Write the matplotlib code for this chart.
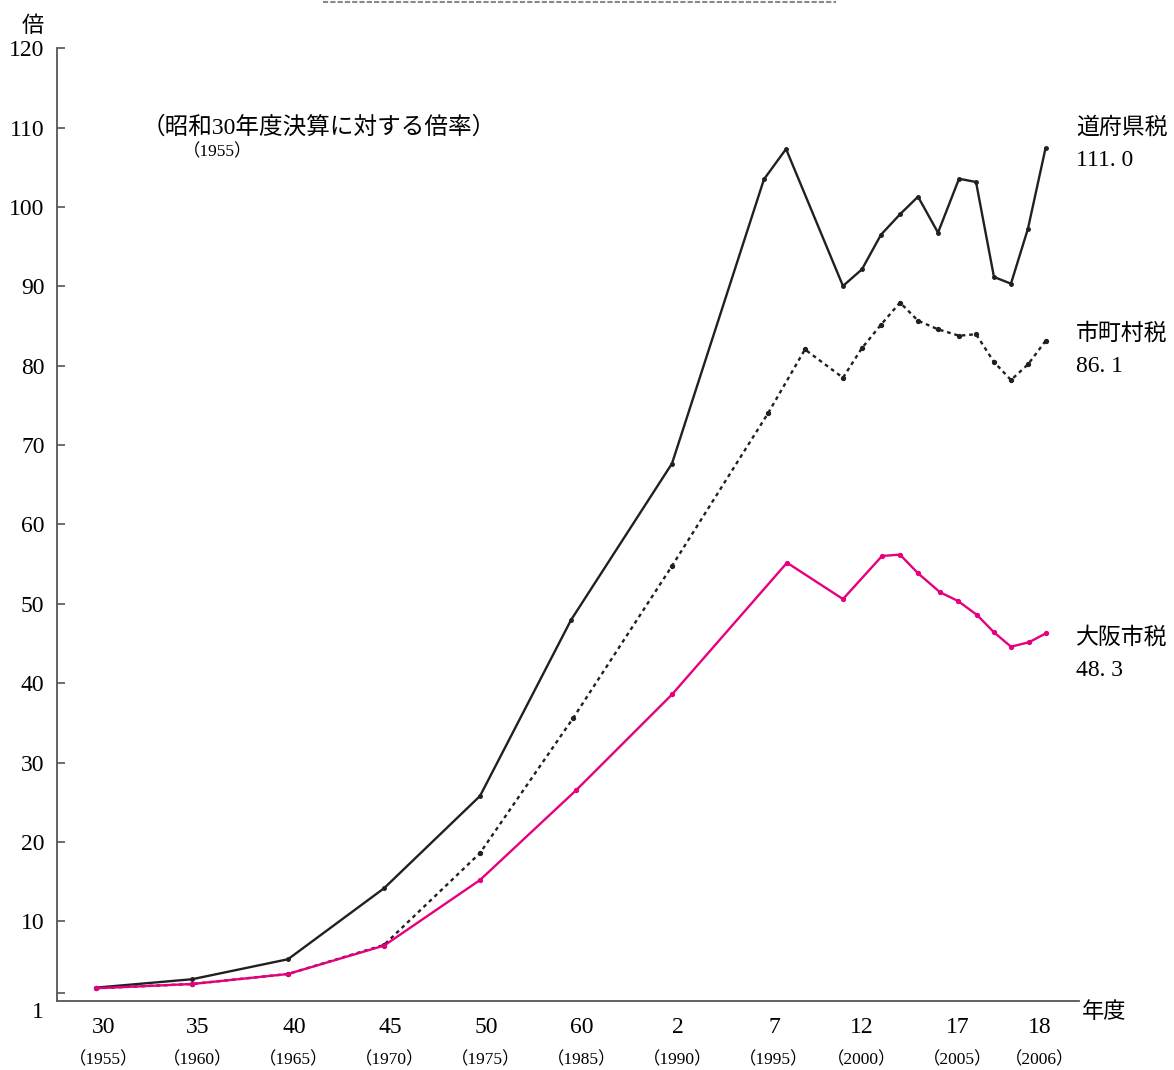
import matplotlib
matplotlib.use('Agg')
import matplotlib.pyplot as plt
from matplotlib.lines import Line2D

plt.rcParams['font.family'] = ['Liberation Serif', 'Noto Sans CJK JP']

# x = position along the (non-uniform) year axis, 0 = 昭和30(1955), 1 per label step
tick_pos = [0.083, 1.063, 2.063, 3.063, 4.063, 5.063, 6.063, 7.063, 7.979, 8.979, 9.833]
tick_era = ['30', '35', '40', '45', '50', '60', '2', '7', '12', '17', '18']
tick_year = ['（1955）', '（1960）', '（1965）', '（1970）', '（1975）', '（1985）',
             '（1990）', '（1995）', '（2000）', '（2005）', '（2006）']

# 道府県税
pref_x = [0, 1, 2, 3, 4, 4.948, 6, 6.958, 7.188, 7.781, 7.979, 8.177, 8.375, 8.563,
          8.771, 8.99, 9.167, 9.354, 9.531, 9.708, 9.891]
pref_y = [1.64, 2.70, 5.22, 14.16, 25.79, 47.96, 67.68, 103.49, 107.31, 90.05, 92.15,
          96.51, 99.08, 101.30, 96.76, 103.56, 103.15, 91.18, 90.34, 97.27, 107.4]

# 市町村税
muni_x = [0, 1, 2, 3, 4, 4.969, 6, 7.0, 7.385, 7.781, 7.979, 8.177, 8.375, 8.563,
          8.771, 8.99, 9.167, 9.354, 9.531, 9.708, 9.891]
muni_y = [1.56, 2.10, 3.36, 7.02, 18.6, 35.58, 54.77, 74.0, 82.05, 78.49, 82.23,
          85.17, 87.96, 85.67, 84.59, 83.78, 83.97, 80.47, 78.20, 80.16, 83.12]

# 大阪市税
osaka_x = [0, 1, 2, 3, 4, 5, 6, 7.198, 7.781, 8.188, 8.375, 8.563, 8.792, 8.979,
           9.177, 9.354, 9.531, 9.719, 9.896]
osaka_y = [1.56, 2.10, 3.36, 6.93, 15.2, 26.5, 38.58, 55.18, 50.6, 56.03, 56.2,
           53.85, 51.46, 50.36, 48.6, 46.41, 44.6, 45.16, 46.29]

end_labels = [('道府県税', '111. 0', 110.0), ('市町村税', '86. 1', 84.0), ('大阪市税', '48. 3', 45.7)]

fig = plt.figure(figsize=(11.74, 10.70), dpi=100)
ax = fig.add_axes([0.0486, 0.0648, 0.8705, 0.8901])

ax.plot(pref_x, pref_y, color='#231f20', lw=1.7, marker='o', ms=2.5)
ax.plot(muni_x, muni_y, color='#231f20', lw=1.7, ls=(0, (1.6, 1.6)), marker='o', ms=2.8)
ax.plot(osaka_x, osaka_y, color='#e6007e', lw=1.7, marker='o', ms=2.8)

ax.set_xlim(-0.406, 10.24)
ax.set_ylim(0, 120)

for s in ['top', 'right']:
    ax.spines[s].set_visible(False)
for s in ['left', 'bottom']:
    ax.spines[s].set_color('#555555')
    ax.spines[s].set_linewidth(1.3)

ax.set_yticks([1] + list(range(10, 121, 10)))
ax.set_yticklabels([''] + [str(v) for v in range(10, 121, 10)])
ax.tick_params(axis='y', direction='in', length=6, width=1.2, color='#555555',
               labelsize=17, pad=9)
ax.text(-0.013, -1.55, '1', transform=ax.get_yaxis_transform(), ha='right',
        va='center', fontsize=17)

ax.set_xticks(tick_pos)
ax.set_xticklabels(tick_era)
ax.tick_params(axis='x', length=0, labelsize=17, pad=12)
for p, yr in zip(tick_pos, tick_year):
    ax.text(p, -0.0623, yr, transform=ax.get_xaxis_transform(), ha='center',
            va='center', fontsize=12.5)

ax.text(-0.0235, 1.0225, '倍', transform=ax.transAxes, ha='center', va='center',
        fontsize=16)
ax.text(1.003, -0.013, '年度', transform=ax.transAxes, ha='left', va='center',
        fontsize=16)

ax.text(0.47, 110.0, '（昭和30年度決算に対する倍率）', ha='left', va='center', fontsize=17)
ax.text(0.9, 106.9, '（1955）', ha='left', va='center', fontsize=12.5)

for name, val, yv in end_labels:
    ax.text(10.21, yv, name, ha='left', va='center', fontsize=16.5)
    ax.text(10.21, yv - 4.1, val, ha='left', va='center', fontsize=17)

# dashed remnant line at the top edge
fig.add_artist(Line2D([323 / 1174, 836 / 1174], [0.998, 0.998], transform=fig.transFigure,
                      color='#8a8a8a', lw=1.5, ls=(0, (2.5, 1))))

fig.savefig('out.png', dpi=100)
